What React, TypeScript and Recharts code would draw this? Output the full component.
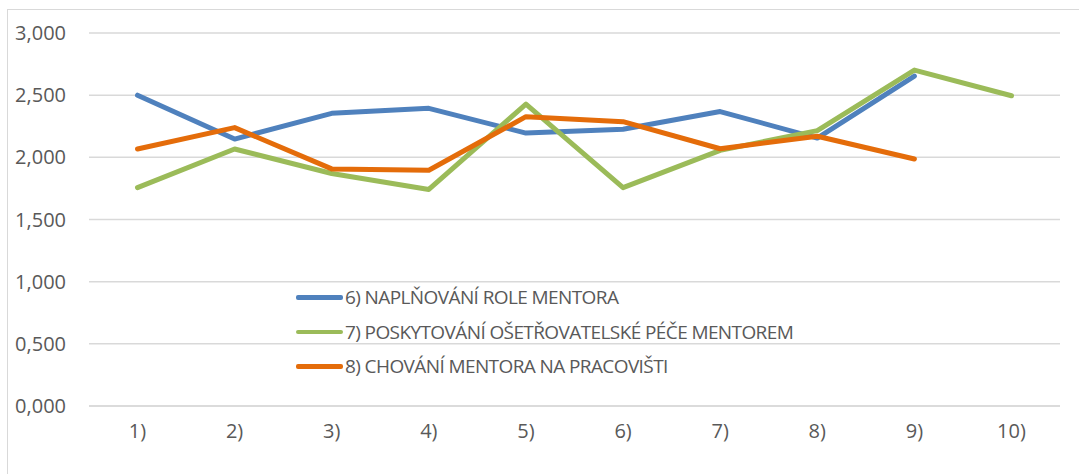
import { LineChart, Line, XAxis, YAxis, CartesianGrid, Legend } from 'recharts'

const categories = ['1)', '2)', '3)', '4)', '5)', '6)', '7)', '8)', '9)', '10)']
const naplnovaniRole = [2.5, 2.147, 2.354, 2.394, 2.195, 2.226, 2.368, 2.155, 2.654, null]
const poskytovaniPece = [1.756, 2.067, 1.87, 1.742, 2.428, 1.756, 2.056, 2.215, 2.702, 2.495]
const chovaniMentora = [2.067, 2.239, 1.907, 1.896, 2.327, 2.287, 2.069, 2.17, 1.987, null]
const yTicks = [0, 0.5, 1, 1.5, 2, 2.5, 3]

const seriesNames = [
  '6) NAPLŇOVÁNÍ ROLE MENTORA',
  '7) POSKYTOVÁNÍ OŠETŘOVATELSKÉ PÉČE MENTOREM',
  '8) CHOVÁNÍ MENTORA NA PRACOVIŠTI',
]

const data = categories.map((name, i) => ({
  name,
  a: naplnovaniRole[i],
  b: poskytovaniPece[i],
  c: chovaniMentora[i],
}))

const FONT = '"Open Sans", "Noto Sans", sans-serif'
const TEXT = '#595959'

function LegendBox({ payload }: any) {
  return (
    <div>
      {(payload || []).map((p: any) => (
        <div key={p.value} style={{ display: 'flex', alignItems: 'center', height: 34.5 }}>
          <span style={{ display: 'inline-block', width: 47, height: 4.5, borderRadius: 2, background: p.color, marginRight: 2 }} />
          <span style={{ color: TEXT, fontSize: 19, letterSpacing: -0.6, fontFamily: FONT, whiteSpace: 'nowrap' }}>{p.value}</span>
        </div>
      ))}
    </div>
  )
}

export default function App() {
  return (
    <div
      style={{
        position: 'absolute',
        left: 7,
        top: 9,
        width: 1100,
        height: 480,
        border: '1px solid #d9d9d9',
        background: '#fff',
      }}
    >
      <LineChart width={1071} height={465} data={data} margin={{ top: 23, right: 19, bottom: 39, left: 0 }}>
        <CartesianGrid vertical={false} stroke="#d9d9d9" strokeWidth={1.5} />
        <XAxis
          dataKey="name"
          padding={{ left: 48.5, right: 48.5 }}
          axisLine={{ stroke: '#d9d9d9', strokeWidth: 1.5 }}
          tickLine={false}
          tickSize={0}
          tickMargin={18}
          height={30}
          tick={{ fill: TEXT, fontSize: 20, fontFamily: FONT }}
        />
        <YAxis
          domain={[0, 3]}
          ticks={yTicks}
          width={81}
          axisLine={false}
          tickLine={false}
          tickSize={0}
          tickMargin={23}
          tickFormatter={(v: number) => v.toFixed(3).replace('.', ',')}
          tick={{ fill: TEXT, fontSize: 20, fontFamily: FONT }}
        />
        <Legend
          layout="vertical"
          verticalAlign="middle"
          align="center"
          wrapperStyle={{ left: 288, top: 270, width: 'auto', height: 'auto' }}
          content={<LegendBox />}
        />
        <Line dataKey="a" name={seriesNames[0]} stroke="#4f81bd" strokeWidth={5} strokeLinecap="round" strokeLinejoin="round" dot={false} activeDot={false} isAnimationActive={false} />
        <Line dataKey="b" name={seriesNames[1]} stroke="#9bbb59" strokeWidth={5} strokeLinecap="round" strokeLinejoin="round" dot={false} activeDot={false} isAnimationActive={false} />
        <Line dataKey="c" name={seriesNames[2]} stroke="#e46c0a" strokeWidth={5} strokeLinecap="round" strokeLinejoin="round" dot={false} activeDot={false} isAnimationActive={false} />
      </LineChart>
    </div>
  )
}
